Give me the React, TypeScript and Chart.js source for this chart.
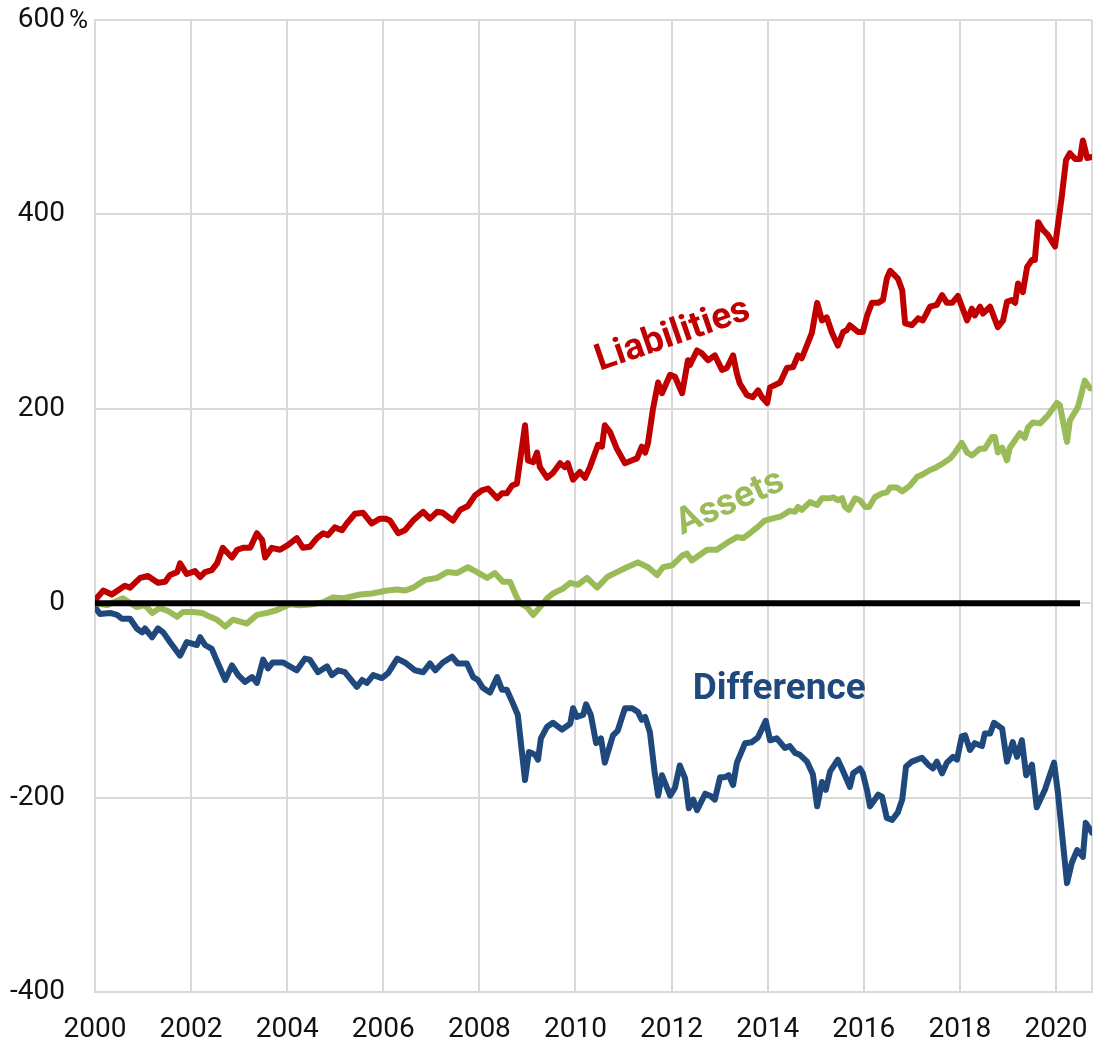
import React, { useEffect, useRef } from "react";
import { Chart, registerables } from "chart.js";

Chart.register(...registerables);

// ---------- DATA ----------
const liabilitiesYears = [
  2000.00, 2000.17, 2000.35, 2000.62, 2000.73, 2000.94, 2001.10, 2001.31, 2001.46, 2001.56,
  2001.71, 2001.77, 2001.91, 2002.08, 2002.19, 2002.29, 2002.43, 2002.54, 2002.66, 2002.85,
  2002.96, 2003.08, 2003.23, 2003.37, 2003.48, 2003.54, 2003.68, 2003.85, 2004.02, 2004.20,
  2004.33, 2004.47, 2004.62, 2004.75, 2004.85, 2004.99, 2005.14, 2005.24, 2005.41, 2005.58,
  2005.76, 2005.93, 2006.04, 2006.14, 2006.31, 2006.45, 2006.62, 2006.83, 2006.97, 2007.12,
  2007.24, 2007.45, 2007.60, 2007.76, 2007.91, 2008.05, 2008.18, 2008.37, 2008.47, 2008.57,
  2008.68, 2008.78, 2008.95, 2009.01, 2009.12, 2009.20, 2009.26, 2009.41, 2009.53, 2009.68,
  2009.78, 2009.84, 2009.95, 2010.09, 2010.20, 2010.30, 2010.47, 2010.55, 2010.61, 2010.72,
  2010.86, 2011.03, 2011.18, 2011.28, 2011.38, 2011.45, 2011.51, 2011.61, 2011.72, 2011.80,
  2011.97, 2012.07, 2012.22, 2012.34, 2012.38, 2012.53, 2012.63, 2012.76, 2012.90, 2013.05,
  2013.15, 2013.28, 2013.36, 2013.42, 2013.57, 2013.69, 2013.80, 2013.88, 2013.99, 2014.05,
  2014.26, 2014.40, 2014.53, 2014.63, 2014.71, 2014.92, 2015.03, 2015.13, 2015.23, 2015.34,
  2015.46, 2015.57, 2015.65, 2015.71, 2015.88, 2015.98, 2016.07, 2016.17, 2016.30, 2016.40,
  2016.48, 2016.55, 2016.71, 2016.80, 2016.86, 2017.00, 2017.13, 2017.23, 2017.38, 2017.52,
  2017.63, 2017.73, 2017.84, 2017.96, 2018.15, 2018.25, 2018.31, 2018.42, 2018.48, 2018.63,
  2018.79, 2018.90, 2018.98, 2019.08, 2019.15, 2019.21, 2019.31, 2019.40, 2019.50, 2019.56,
  2019.63, 2019.73, 2019.83, 2019.98, 2020.12, 2020.21, 2020.29, 2020.40, 2020.50, 2020.56,
  2020.65, 2020.75,
];
const liabilitiesValues = [
  3, 13, 9, 18, 16, 26, 28, 21, 22, 29,
  32, 41, 30, 33, 27, 32, 34, 41, 57, 47,
  55, 57, 57, 72, 65, 47, 57, 55, 60, 67,
  57, 58, 67, 72, 70, 78, 75, 82, 92, 93,
  82, 87, 87, 85, 72, 75, 85, 94, 87, 94,
  93, 85, 96, 100, 111, 116, 118, 108, 113, 113,
  121, 123, 183, 147, 145, 155, 140, 129, 134, 144,
  140, 144, 127, 135, 129, 140, 163, 161, 183, 176,
  159, 144, 147, 149, 161, 155, 165, 199, 227, 216,
  235, 233, 216, 250, 245, 260, 257, 250, 255, 240,
  242, 255, 236, 226, 214, 212, 219, 212, 206, 222,
  227, 242, 243, 255, 252, 278, 309, 291, 294, 278,
  265, 279, 281, 286, 279, 279, 296, 309, 309, 312,
  334, 342, 334, 322, 288, 286, 293, 291, 305, 307,
  317, 309, 309, 316, 291, 303, 296, 305, 298, 305,
  284, 291, 310, 312, 309, 329, 320, 346, 353, 353,
  392, 384, 379, 367, 418, 456, 463, 457, 457, 476,
  458, 459,
];

const assetsYears = [
  2000.00, 2000.25, 2000.58, 2000.87, 2001.04, 2001.19, 2001.35, 2001.52, 2001.71, 2001.83,
  2002.04, 2002.23, 2002.35, 2002.54, 2002.71, 2002.87, 2003.16, 2003.37, 2003.58, 2003.79,
  2004.06, 2004.27, 2004.54, 2004.75, 2004.95, 2005.16, 2005.52, 2005.76, 2006.08, 2006.29,
  2006.45, 2006.62, 2006.87, 2007.12, 2007.33, 2007.53, 2007.76, 2007.95, 2008.16, 2008.32,
  2008.49, 2008.64, 2008.74, 2008.84, 2008.99, 2009.12, 2009.26, 2009.41, 2009.53, 2009.74,
  2009.89, 2010.05, 2010.24, 2010.45, 2010.66, 2010.86, 2011.07, 2011.30, 2011.51, 2011.70,
  2011.82, 2012.01, 2012.22, 2012.32, 2012.42, 2012.74, 2012.94, 2013.15, 2013.36, 2013.49,
  2013.63, 2013.78, 2013.94, 2014.09, 2014.26, 2014.46, 2014.57, 2014.63, 2014.71, 2014.88,
  2015.03, 2015.13, 2015.30, 2015.36, 2015.46, 2015.55, 2015.61, 2015.69, 2015.82, 2015.92,
  2016.03, 2016.11, 2016.23, 2016.38, 2016.48, 2016.55, 2016.69, 2016.80, 2016.96, 2017.11,
  2017.21, 2017.38, 2017.48, 2017.65, 2017.80, 2017.90, 2018.04, 2018.15, 2018.25, 2018.42,
  2018.52, 2018.67, 2018.73, 2018.79, 2018.88, 2018.98, 2019.04, 2019.25, 2019.35, 2019.42,
  2019.52, 2019.67, 2019.83, 2020.02, 2020.08, 2020.23, 2020.29, 2020.46, 2020.60, 2020.71,
];
const assetsValues = [
  0, -2, 5, -4, -2, -10, -5, -8, -14, -9,
  -9, -10, -13, -17, -24, -17, -21, -12, -10, -7,
  -1, -2, -1, 1, 6, 5, 9, 10, 13, 14,
  13, 16, 24, 26, 32, 31, 37, 32, 26, 31,
  22, 22, 10, 0, -4, -12, -4, 5, 10, 15,
  21, 19, 26, 16, 27, 32, 37, 42, 37, 29,
  37, 39, 49, 51, 44, 55, 55, 62, 68, 67,
  72, 78, 85, 87, 89, 95, 94, 99, 96, 104,
  101, 108, 108, 109, 106, 108, 99, 96, 108, 106,
  99, 99, 109, 113, 114, 119, 119, 115, 121, 130,
  132, 137, 139, 144, 149, 155, 165, 155, 152, 159,
  159, 171, 171, 155, 160, 147, 160, 175, 170, 181,
  186, 185, 193, 206, 204, 166, 188, 202, 229, 221,
];

const differenceYears = [
  2000.00, 2000.10, 2000.31, 2000.46, 2000.56, 2000.73, 2000.87, 2000.98, 2001.04, 2001.19,
  2001.31, 2001.42, 2001.56, 2001.77, 2001.91, 2002.12, 2002.19, 2002.29, 2002.43, 2002.56,
  2002.71, 2002.85, 2002.98, 2003.12, 2003.27, 2003.37, 2003.50, 2003.60, 2003.70, 2003.91,
  2004.20, 2004.37, 2004.47, 2004.64, 2004.83, 2004.93, 2005.06, 2005.20, 2005.45, 2005.56,
  2005.66, 2005.79, 2005.97, 2006.10, 2006.29, 2006.45, 2006.66, 2006.83, 2006.97, 2007.08,
  2007.24, 2007.43, 2007.55, 2007.74, 2007.87, 2007.97, 2008.07, 2008.22, 2008.37, 2008.47,
  2008.57, 2008.68, 2008.80, 2008.95, 2009.03, 2009.16, 2009.22, 2009.28, 2009.41, 2009.53,
  2009.72, 2009.89, 2009.95, 2010.03, 2010.16, 2010.22, 2010.32, 2010.43, 2010.53, 2010.61,
  2010.78, 2010.88, 2011.03, 2011.18, 2011.30, 2011.38, 2011.45, 2011.55, 2011.65, 2011.72,
  2011.80, 2011.97, 2012.07, 2012.17, 2012.28, 2012.36, 2012.45, 2012.53, 2012.70, 2012.80,
  2012.90, 2013.01, 2013.11, 2013.19, 2013.28, 2013.36, 2013.53, 2013.67, 2013.80, 2013.96,
  2014.05, 2014.19, 2014.36, 2014.46, 2014.57, 2014.67, 2014.82, 2014.94, 2015.03, 2015.13,
  2015.21, 2015.30, 2015.46, 2015.57, 2015.71, 2015.78, 2015.92, 2015.98, 2016.07, 2016.13,
  2016.30, 2016.38, 2016.48, 2016.59, 2016.71, 2016.80, 2016.88, 2017.00, 2017.21, 2017.34,
  2017.44, 2017.52, 2017.63, 2017.73, 2017.86, 2017.94, 2018.04, 2018.11, 2018.21, 2018.31,
  2018.46, 2018.52, 2018.63, 2018.71, 2018.88, 2018.98, 2019.10, 2019.19, 2019.29, 2019.38,
  2019.50, 2019.60, 2019.77, 2019.96, 2020.04, 2020.23, 2020.33, 2020.44, 2020.56, 2020.62,
  2020.75,
];
const differenceValues = [
  -4, -11, -10, -12, -16, -16, -26, -30, -26, -35,
  -26, -30, -40, -54, -40, -43, -35, -43, -47, -62,
  -79, -64, -74, -81, -76, -82, -58, -67, -61, -61,
  -69, -57, -58, -71, -65, -74, -69, -71, -86, -79,
  -82, -74, -77, -72, -57, -61, -69, -71, -62, -69,
  -61, -55, -62, -62, -76, -79, -87, -92, -76, -89,
  -89, -101, -115, -182, -153, -156, -161, -139, -127, -123,
  -130, -124, -108, -117, -115, -104, -115, -144, -139, -164,
  -136, -131, -108, -108, -112, -120, -117, -133, -175, -198,
  -177, -198, -190, -167, -180, -211, -202, -213, -196, -198,
  -202, -179, -179, -177, -187, -164, -144, -143, -138, -121,
  -141, -139, -149, -147, -154, -156, -163, -176, -209, -184,
  -192, -173, -161, -173, -189, -175, -170, -175, -193, -209,
  -197, -199, -221, -223, -215, -202, -168, -163, -159, -166,
  -170, -163, -175, -164, -158, -161, -137, -136, -151, -144,
  -147, -134, -134, -123, -129, -163, -143, -158, -141, -177,
  -166, -210, -192, -164, -195, -288, -267, -254, -261, -226,
  -236,
];

const zeroYears = [2000, 2020.5];
const zeroValues = [0, 0];

const xTickYears = [2000, 2002, 2004, 2006, 2008, 2010, 2012, 2014, 2016, 2018, 2020];
const xEnd = 2020.75;
const yTickValues = [-400, -200, 0, 200, 400, 600];

// ---------- STYLE ----------
const RED = "#C00000";
const GREEN = "#9BBB59";
const BLUE = "#1F497D";
const GRID = "#d9d9d9";
const FONT = "Roboto";

const seriesLabels = [
  { text: "Liabilities", x: 2012.09, y: 266, angle: -19, color: RED },
  { text: "Assets", x: 2013.3, y: 94, angle: -24, color: GREEN },
  { text: "Difference", x: 2014.24, y: -99, angle: 0, color: BLUE },
];

function toPoints(xs: number[], ys: number[]) {
  const n = Math.min(xs.length, ys.length);
  const out: { x: number; y: number }[] = [];
  for (let i = 0; i < n; i++) out.push({ x: xs[i], y: ys[i] });
  return out;
}

function zeroScalePadding(s: any) {
  s.paddingTop = 0;
  s.paddingBottom = 0;
  s.paddingLeft = 0;
  s.paddingRight = 0;
}

const labelPlugin = {
  id: "seriesLabels",
  afterDatasetsDraw(chart: any) {
    const { ctx, scales } = chart;
    const xs = scales.x;
    const ys = scales.y;
    ctx.save();
    ctx.font = `bold 37px ${FONT}`;
    ctx.textAlign = "center";
    ctx.textBaseline = "alphabetic";
    for (const l of seriesLabels) {
      ctx.save();
      ctx.translate(xs.getPixelForValue(l.x), ys.getPixelForValue(l.y));
      ctx.rotate((l.angle * Math.PI) / 180);
      ctx.fillStyle = l.color;
      ctx.fillText(l.text, 0, 0);
      ctx.restore();
    }
    // percent sign after the top tick label
    ctx.font = `26px ${FONT}`;
    ctx.fillStyle = "#111";
    ctx.textAlign = "left";
    ctx.fillText("%", ys.right - 26, ys.getPixelForValue(600) + 8);
    ctx.restore();
  },
};

export default function App() {
  const canvasRef = useRef<HTMLCanvasElement | null>(null);

  useEffect(() => {
    if (!canvasRef.current) return;
    const lineBase = {
      pointRadius: 0,
      borderJoinStyle: "round" as const,
      borderCapStyle: "round" as const,
      tension: 0,
      fill: false,
    };
    const chart = new Chart(canvasRef.current, {
      type: "line",
      data: {
        datasets: [
          { ...lineBase, label: "Zero", data: toPoints(zeroYears, zeroValues), borderColor: "#000", borderWidth: 6, borderCapStyle: "butt" as const },
          { ...lineBase, label: "Liabilities", data: toPoints(liabilitiesYears, liabilitiesValues), borderColor: RED, borderWidth: 6 },
          { ...lineBase, label: "Assets", data: toPoints(assetsYears, assetsValues), borderColor: GREEN, borderWidth: 6 },
          { ...lineBase, label: "Difference", data: toPoints(differenceYears, differenceValues), borderColor: BLUE, borderWidth: 6 },
        ],
      },
      options: {
        responsive: false,
        animation: false,
        devicePixelRatio: 1,
        layout: { padding: { top: 20, right: 7, bottom: 0, left: 0 } },
        plugins: { legend: { display: false }, tooltip: { enabled: false } },
        scales: {
          x: {
            type: "linear",
            min: 2000,
            max: xEnd,
            afterBuildTicks: (s: any) => {
              s.ticks = [...xTickYears, xEnd].map((v) => ({ value: v }));
            },
            afterFit: (s: any) => {
              s.height = 52;
              zeroScalePadding(s);
            },
            ticks: {
              autoSkip: false,
              maxRotation: 0,
              minRotation: 0,
              padding: 21,
              color: "#111",
              font: { family: FONT, size: 28 },
              callback: (v: any) => (xTickYears.includes(Number(v)) ? String(v) : ""),
            },
            grid: { color: GRID, lineWidth: 2, drawTicks: false },
            border: { color: GRID, width: 2 },
          },
          y: {
            type: "linear",
            min: -400,
            max: 600,
            afterBuildTicks: (s: any) => {
              s.ticks = yTickValues.map((v) => ({ value: v }));
            },
            afterFit: (s: any) => {
              s.width = 95;
              zeroScalePadding(s);
            },
            ticks: {
              padding: 30,
              color: "#111",
              font: { family: FONT, size: 28 },
              callback: (v: any) => String(v),
            },
            grid: { color: GRID, lineWidth: 2, drawTicks: false },
            border: { color: GRID, width: 2 },
          },
        },
      },
      plugins: [labelPlugin],
    });
    return () => chart.destroy();
  }, []);

  return (
    <div style={{ position: "absolute", left: 0, top: 0, width: 1099, height: 1044, background: "#fff" }}>
      <canvas ref={canvasRef} width={1099} height={1044} style={{ display: "block" }} />
    </div>
  );
}
